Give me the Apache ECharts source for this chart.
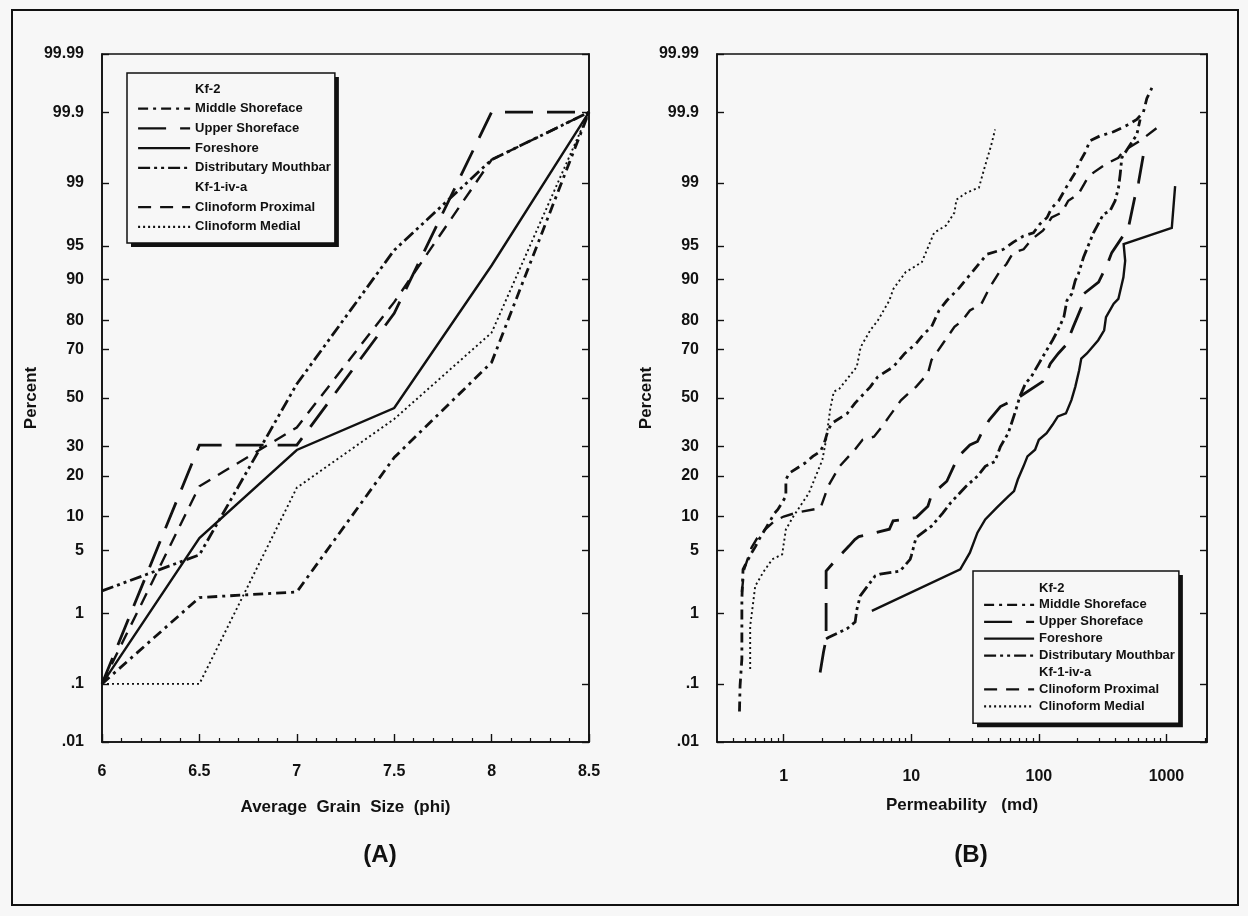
<!DOCTYPE html>
<html><head><meta charset="utf-8">
<script src="https://cdn.jsdelivr.net/npm/echarts@6/dist/echarts.min.js"></script>
<style>html,body{margin:0;padding:0;background:#f7f7f7}#c{width:1248px;height:916px}</style>
</head><body><div id="c"></div>
<script>
// ---------- DATA ----------
// (A) cumulative percent vs average grain size (phi)
const grainSizes = [6, 6.5, 7, 7.5, 8, 8.5];
const grainMiddleShoreface = [0.1, 1.55, 1.8, 26, 65, 99.9];
const grainUpperShoreface = [0.1, 30.5, 30.5, 82, 99.9, 99.9];
const grainForeshore = [0.1, 6.5, 28.7, 45.7, 92.4, 99.9];
const grainDistributaryMouthbar = [1.85, 4.5, 56, 94.5, 99.5, 99.9];
const grainClinoformProximal = [0.1, 17, 37.5, 85, 99.5, 99.9];
const grainClinoformMedial = [0.1, 0.1, 16.6, 41, 76, 99.9];

// (B) cumulative percent vs permeability (md): [permeability, percent]
const permMiddleShoreface = [[0.45,0.035],[0.455,0.094],[0.47,0.24],[0.47,0.57],[0.47,1.48],[0.48,3.2],[0.56,4.7],[0.6,5.4],[0.64,6.3],[0.74,8.3],[0.85,10.7],[0.9,11.4],[1.04,14.4],[1.04,18.9],[1.11,20.9],[1.47,24.1],[1.69,26.4],[1.94,28.2],[2.08,31.3],[2.23,36.5],[2.39,39.3],[3.15,43.4],[3.61,47.7],[4.77,54.8],[5.47,59.1],[7.23,63.2],[8.89,68.5],[10.9,72.2],[12.6,75.7],[14.4,77.9],[16.5,82.8],[19,85.4],[23.4,88.1],[27.1,90.1],[39.2,94.0],[52.8,94.6],[63.2,95.4],[75.7,96.0],[90.7,96.3],[102,97.0],[116,97.45],[126,98.0],[143,98.35],[166,98.9],[193,99.26],[204,99.42],[230,99.6],[252,99.73],[302,99.77],[385,99.8],[490,99.84],[586,99.87],[660,99.9],[702,99.94],[769,99.96]];
const permUpperShoreface = [[1.93,0.15],[2.05,0.3],[2.15,0.46],[2.15,3.07],[2.74,4.4],[3.26,5.5],[3.61,6.3],[3.88,6.7],[5.11,7.2],[6.73,7.8],[7.2,9.2],[8.6,9.4],[10.9,9.8],[13.5,12.1],[14.3,14.4],[15.4,15.6],[19,18.4],[23.4,26.4],[28.8,30.6],[33,31.9],[35.5,35.2],[40.8,40.6],[50,46.3],[71,50.6],[107,57],[123,64.5],[142,68.5],[163,71.6],[186,77.9],[216,83.7],[225,87],[294,89.5],[341,92.4],[373,94.2],[503,96.7],[565,98.5],[604,99.0],[661,99.58]];
const permForeshore = [[4.91,1.07],[24.2,3.2],[28.8,4.73],[33,7.27],[38,9.46],[46.8,11.8],[57.6,14.4],[63.9,15.7],[68.4,18.9],[75.8,23.0],[81.4,26.4],[93.4,28.8],[100,32.6],[115,35.2],[128,38.6],[141,42.1],[163,43.4],[180,49.1],[193,54.8],[207,61.8],[215,66.5],[238,68.5],[292,73.4],[325,76.8],[336,80.9],[386,84.6],[420,85.8],[460,90.4],[475,93.1],[462,95.2],[1102,96.7],[1170,98.9]];
const permDistributaryMouthbar = [[2.15,0.46],[2.24,0.48],[3.13,0.63],[3.63,0.77],[3.75,1.12],[3.98,1.62],[4.76,2.3],[5.21,2.72],[5.7,2.84],[8.18,3.07],[9.8,4.06],[10.0,4.4],[10.9,6.55],[14.4,8.3],[17.7,10.7],[20.4,12.9],[26.9,17.0],[33,19.9],[38,23.0],[45.2,24.6],[50,30.0],[57.6,35.2],[66.1,44.9],[70.9,50.6],[78.6,56.3],[87.2,59.1],[100,64.5],[115,69.7],[128,73.4],[141,76.8],[157,80.9],[166,85.4],[181,87.0],[193,89.8],[204,91.0],[224,93.6],[252,95.5],[268,96.3],[321,97.66],[362,97.85],[396,98.35],[421,98.85],[434,99.22],[447,99.53],[520,99.69],[586,99.78],[622,99.87]];
const permClinoformProximal = [[0.47,1.8],[0.49,3.2],[0.56,5.3],[0.62,6.5],[0.72,7.8],[0.85,9.2],[1.0,10.0],[1.28,10.8],[1.94,11.7],[2.05,13.6],[2.23,17],[2.74,23],[3.61,28.8],[4.15,32.6],[5.1,33.8],[5.9,37.9],[6.7,42],[8.3,49],[9.5,52],[10.9,54.8],[13.5,60.5],[14.4,65.9],[17.7,72.2],[21.8,77.9],[25.1,79.9],[28.8,82.8],[35.5,84.6],[41.4,88.5],[49.6,91.5],[55.6,92.6],[63,94.2],[76,94.6],[88,95.7],[108,96.5],[126,97.45],[151,97.75],[170,98.35],[204,98.62],[238,99.1],[268,99.26],[330,99.42],[420,99.53],[460,99.62],[586,99.71],[640,99.74],[841,99.825]];
const permClinoformMedial = [[0.546,0.17],[0.546,0.37],[0.546,0.685],[0.577,1.37],[0.598,2.1],[0.691,2.98],[0.813,4.06],[0.973,4.55],[1.04,7.77],[1.196,10.1],[1.575,15.2],[2.01,25.2],[2.15,32.6],[2.31,44.9],[2.47,52.7],[2.74,54.1],[3.74,63.2],[4.01,70.9],[4.77,76.8],[5.47,79.9],[6.73,85.4],[7.24,88.1],[9.02,91.3],[12.1,92.9],[13.0,94.2],[15.1,96.3],[18.8,96.9],[21.8,97.75],[22.6,98.4],[27.1,98.68],[33.9,98.85],[37.8,99.39],[42.2,99.68],[45.4,99.815]];

// tick values / labels
const percentTicks = [0.01, 0.1, 1, 5, 10, 20, 30, 50, 70, 80, 90, 95, 99, 99.9, 99.99];
const percentTickLabels = ['.01', '.1', '1', '5', '10', '20', '30', '50', '70', '80', '90', '95', '99', '99.9', '99.99'];
const permMajorTicks = [1, 10, 100, 1000];
const permMinorTicks = [0.4,0.5,0.6,0.7,0.8,0.9,2,3,4,5,6,7,8,9,20,30,40,50,60,70,80,90,200,300,400,500,600,700,800,900,2000];
const legendNames = ['Kf-2', 'Middle Shoreface', 'Upper Shoreface', 'Foreshore', 'Distributary Mouthbar', 'Kf-1-iv-a', 'Clinoform Proximal', 'Clinoform Medial'];
const headerNames = ['Kf-2', 'Kf-1-iv-a'];

// ---------- probability (normal) scale transform ----------
function probit(p) {
  const a=[-3.969683028665376e+01,2.209460984245205e+02,-2.759285104469687e+02,1.383577518672690e+02,-3.066479806614716e+01,2.506628277459239e+00];
  const b=[-5.447609879822406e+01,1.615858368580409e+02,-1.556989798598866e+02,6.680131188771972e+01,-1.328068155288572e+01];
  const c=[-7.784894002430293e-03,-3.223964580411365e-01,-2.400758277161838e+00,-2.549732539343734e+00,4.374664141464968e+00,2.938163982698783e+00];
  const d=[7.784695709041462e-03,3.224671290700398e-01,2.445134137142996e+00,3.754408661907416e+00];
  const pl = 0.02425;
  if (p < pl) {
    const q = Math.sqrt(-2*Math.log(p));
    return (((((c[0]*q+c[1])*q+c[2])*q+c[3])*q+c[4])*q+c[5])/((((d[0]*q+d[1])*q+d[2])*q+d[3])*q+1);
  }
  const q = p - 0.5, r = q*q;
  return (((((a[0]*r+a[1])*r+a[2])*r+a[3])*r+a[4])*r+a[5])*q/(((((b[0]*r+b[1])*r+b[2])*r+b[3])*r+b[4])*r+1);
}
function zOf(percent) {
  if (percent === 50) return 0;
  return percent < 50 ? probit(percent/100) : -probit((100-percent)/100);
}
const yMin = zOf(0.01), yMax = -yMin;
const percentTickZ = percentTicks.map(zOf);
function percentLabel(v) {
  let best = 0;
  for (let i = 1; i < percentTickZ.length; i++) if (Math.abs(percentTickZ[i]-v) < Math.abs(percentTickZ[best]-v)) best = i;
  return percentTickLabels[best];
}

// ---------- styles ----------
const FONT = 'Liberation Sans';
const INK = '#111';
const BG = '#f7f7f7';
const styles = {
  'Middle Shoreface': { type: [10,5,3,5], width: 2.8 },
  'Upper Shoreface': { type: [28,14], width: 2.8 },
  'Foreshore': { type: 'solid', width: 2.4 },
  'Distributary Mouthbar': { type: [12,4,3,4,3,4], width: 2.8 },
  'Clinoform Proximal': { type: [13,9], width: 2.4 },
  'Clinoform Medial': { type: [2,3], width: 1.9 }
};
function mk(name, data, xi, yi) {
  return { type: 'line', name, data, xAxisIndex: xi, yAxisIndex: yi, symbol: 'none', showSymbol: false, silent: true,
    lineStyle: { color: INK, width: styles[name].width, type: styles[name].type, cap: 'butt', join: 'miter' } };
}
const leftSets = {
  'Middle Shoreface': grainMiddleShoreface, 'Upper Shoreface': grainUpperShoreface, 'Foreshore': grainForeshore,
  'Distributary Mouthbar': grainDistributaryMouthbar, 'Clinoform Proximal': grainClinoformProximal, 'Clinoform Medial': grainClinoformMedial
};
const rightSets = {
  'Middle Shoreface': permMiddleShoreface, 'Upper Shoreface': permUpperShoreface, 'Foreshore': permForeshore,
  'Distributary Mouthbar': permDistributaryMouthbar, 'Clinoform Proximal': permClinoformProximal, 'Clinoform Medial': permClinoformMedial
};
const series = [];
headerNames.forEach(n => series.push({ type: 'line', name: n, data: [], xAxisIndex: 0, yAxisIndex: 0, symbol: 'none', lineStyle: { opacity: 0, color: INK } }));
Object.keys(leftSets).forEach(n => series.push(mk(n, grainSizes.map((x, i) => [x, zOf(leftSets[n][i])]), 0, 0)));
Object.keys(rightSets).forEach(n => series.push(mk(n, rightSets[n].map(([v, p]) => [v, zOf(p)]), 1, 2)));

const labelStyle = { color: INK, fontFamily: FONT, fontWeight: 'bold', fontSize: 16 };
const nameStyle = { color: INK, fontFamily: FONT, fontWeight: 'bold', fontSize: 17 };
const lineAx = { show: true, onZero: false, lineStyle: { color: INK, width: 1.6 } };

function yAxes(grid) {
  return [
    { type: 'value', gridIndex: grid, position: 'left', min: yMin, max: yMax, axisLine: lineAx,
      name: 'Percent', nameLocation: 'middle', nameGap: 58, nameRotate: 90, nameTextStyle: nameStyle,
      axisTick: { show: true, inside: true, length: 7, customValues: percentTickZ, lineStyle: { color: INK, width: 1.4 } },
      axisLabel: { show: true, margin: 18, customValues: percentTickZ, formatter: v => percentLabel(v), ...labelStyle },
      splitLine: { show: false } },
    { type: 'value', gridIndex: grid, position: 'right', min: yMin, max: yMax, axisLine: lineAx,
      axisTick: { show: true, inside: true, length: 7, customValues: percentTickZ, lineStyle: { color: INK, width: 1.4 } },
      axisLabel: { show: false }, splitLine: { show: false } }
  ];
}
// each legend box is drawn twice: a lower layer that only casts the offset shadow, and the visible layer on top
function legend(left, top, gap, pad, iw, shadowLayer) {
  return {
    show: true, orient: 'vertical', left, top, itemWidth: iw, itemHeight: 14, itemGap: gap, padding: pad,
    selectedMode: false, backgroundColor: BG, borderRadius: 0, z: shadowLayer ? 5 : 6,
    borderColor: INK, borderWidth: shadowLayer ? 0 : 1.5,
    shadowColor: shadowLayer ? INK : 'transparent', shadowBlur: 0, shadowOffsetX: shadowLayer ? 4 : 0, shadowOffsetY: shadowLayer ? 4 : 0,
    itemStyle: { opacity: 0 }, lineStyle: { width: 2.2 },
    textStyle: { fontFamily: FONT, fontWeight: 'bold', fontSize: 13, color: shadowLayer ? 'rgba(0,0,0,0)' : INK, lineHeight: 14 },
    data: legendNames.map(n => (shadowLayer || headerNames.includes(n)) ? { name: n, lineStyle: { opacity: 0 } } : { name: n })
  };
}

const option = {
  backgroundColor: BG,
  animation: false,
  grid: [
    { left: 102, top: 54, width: 487, height: 688, show: true, borderColor: INK, borderWidth: 1.6, backgroundColor: 'transparent' },
    { left: 717, top: 54, width: 490, height: 688, show: true, borderColor: INK, borderWidth: 1.6, backgroundColor: 'transparent' }
  ],
  xAxis: [
    { type: 'value', gridIndex: 0, position: 'bottom', min: 6, max: 8.5, interval: 0.5, axisLine: lineAx,
      name: 'Average  Grain  Size  (phi)', nameLocation: 'middle', nameGap: 57, nameTextStyle: nameStyle,
      axisTick: { show: true, inside: true, length: 8, lineStyle: { color: INK, width: 1.4 } },
      minorTick: { show: true, splitNumber: 5, length: 4, lineStyle: { color: INK, width: 1.2 } },
      axisLabel: { margin: 22, ...labelStyle }, splitLine: { show: false } },
    { type: 'log', logBase: 10, gridIndex: 1, position: 'bottom', min: 0.3, max: 2080, axisLine: lineAx,
      name: 'Permeability   (md)', nameLocation: 'middle', nameGap: 55, nameTextStyle: nameStyle,
      axisTick: { show: true, inside: true, length: 8, customValues: permMajorTicks, lineStyle: { color: INK, width: 1.4 } },
      axisLabel: { margin: 27, customValues: permMajorTicks, formatter: v => String(Math.round(v)), ...labelStyle },
      splitLine: { show: false } },
    { type: 'log', logBase: 10, gridIndex: 1, position: 'bottom', min: 0.3, max: 2080, axisLine: { show: false, onZero: false },
      axisTick: { show: true, inside: true, length: 4, customValues: permMinorTicks, lineStyle: { color: INK, width: 1.2 } },
      axisLabel: { show: false }, splitLine: { show: false } }
  ],
  yAxis: [...yAxes(0), ...yAxes(1)],
  legend: [
    legend(127, 73, 5.7, [9, 4, 9, 10], 52, true),
    legend(127, 73, 5.7, [9, 4, 9, 10], 52, false),
    legend(973, 571, 2.9, [10, 4, 10, 10], 50, true),
    legend(973, 571, 2.9, [10, 4, 10, 10], 50, false)
  ],
  series,
  graphic: [
    { type: 'rect', shape: { x: 12, y: 10, width: 1226, height: 895 }, style: { fill: 'none', stroke: INK, lineWidth: 2 }, silent: true },
    { type: 'text', x: 380, y: 855, style: { text: '(A)', fill: INK, font: 'bold 24px "Liberation Sans"', textAlign: 'center', textVerticalAlign: 'middle' }, silent: true },
    { type: 'text', x: 971, y: 855, style: { text: '(B)', fill: INK, font: 'bold 24px "Liberation Sans"', textAlign: 'center', textVerticalAlign: 'middle' }, silent: true }
  ]
};
const chart = echarts.init(document.getElementById('c'), null, { renderer: 'canvas' });
chart.setOption(option);
</script>
</body></html>
